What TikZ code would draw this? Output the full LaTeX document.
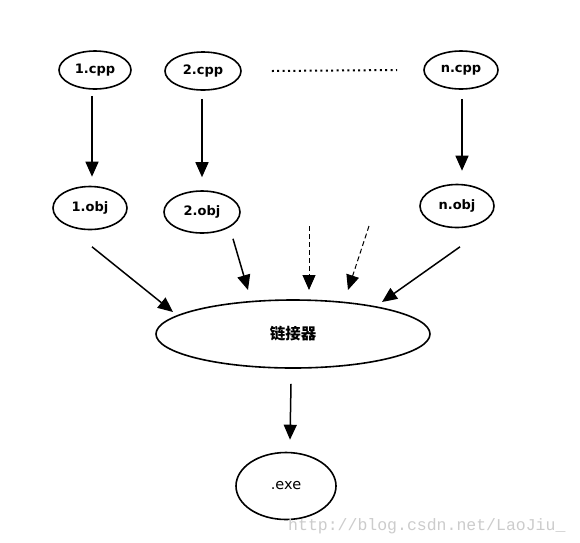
\documentclass[tikz,border=0pt]{standalone}
\usepackage{fontspec}
\setmainfont{DejaVu Sans}
\newfontfamily\cjk{Noto Sans CJK SC}
\newfontfamily\wm{Liberation Mono}
\usetikzlibrary{arrows.meta,calc,shapes.geometric}
\begin{document}
\begin{tikzpicture}[x=1pt,y=-1pt,
  ell/.style={draw, ellipse, line width=1.6pt, inner sep=0pt, font=\bfseries\fontsize{13}{14}\selectfont},
  arr/.style={line width=1.5pt, -{Triangle[length=15pt,width=13pt]}},
  dsh/.style={line width=1pt, dash pattern=on 5pt off 3pt, -{Triangle[length=15pt,width=13pt]}},
  dotline/.style={line width=2pt, dash pattern=on 2pt off 3.4pt},
]
\useasboundingbox[fill=white] (0,0) rectangle (580,542);
\node[ell, minimum width=72pt, minimum height=38pt] (c1) at (95,70) {1.cpp};
\node[ell, minimum width=76pt, minimum height=38pt] (c2) at (203,71) {2.cpp};
\node[ell, minimum width=74pt, minimum height=38pt] (cn) at (461,70) {n.cpp};
\node[ell, minimum width=74pt, minimum height=43pt] (o1) at (90,208) {1.obj};
\node[ell, minimum width=76pt, minimum height=42pt] (o2) at (202,212) {2.obj};
\node[ell, minimum width=74pt, minimum height=43pt] (on) at (457,206) {n.obj};
\node[ell, minimum width=274pt, minimum height=68pt, font=\cjk\bfseries\fontsize{15.5}{16}\selectfont] (link) at (293,334) {链接器};
\node[ell, minimum width=100pt, minimum height=67pt, font=\fontsize{14.5}{15}\selectfont] (exe) at (286,486) {.exe};

\draw[dotline] ($(c2.east)+(30,0)$) -- ($(cn.west)+(-26,0)$);

\draw[arr] ($(c1.south)+(-3,6)$) -- ($(o1.north)+(2,-9)$);
\draw[arr] ($(c2.south)+(-1,8)$) -- ($(o2.north)+(0,-13)$);
\draw[arr] ($(cn.south)+(1,9)$) -- ($(on.north)+(5,-13)$);

\draw[arr] ($(o1.south)+(2,16.5)$) -- ($(link.center)+(-120,-22)$);
\draw[arr] ($(o2.south)+(31,5)$) -- ($(link.center)+(-45,-44)$);
\draw[dsh] ($(link.center)+(16,-108)$) -- ($(link.center)+(16,-44)$);
\draw[dsh] ($(link.center)+(76,-108)$) -- ($(link.center)+(55,-44)$);
\draw[arr] ($(on.south)+(3,18.5)$) -- ($(link.center)+(89,-32)$);
\draw[arr] ($(link.south)+(-2,15)$) -- ($(exe.north)+(4,-12)$);

\node[anchor=base west, inner sep=0pt, font=\wm\fontsize{16.5}{17}\selectfont, text=black!20] (wm) at (288,530) {http://blog.csdn.net/LaoJiu\_};
\end{tikzpicture}
\end{document}
